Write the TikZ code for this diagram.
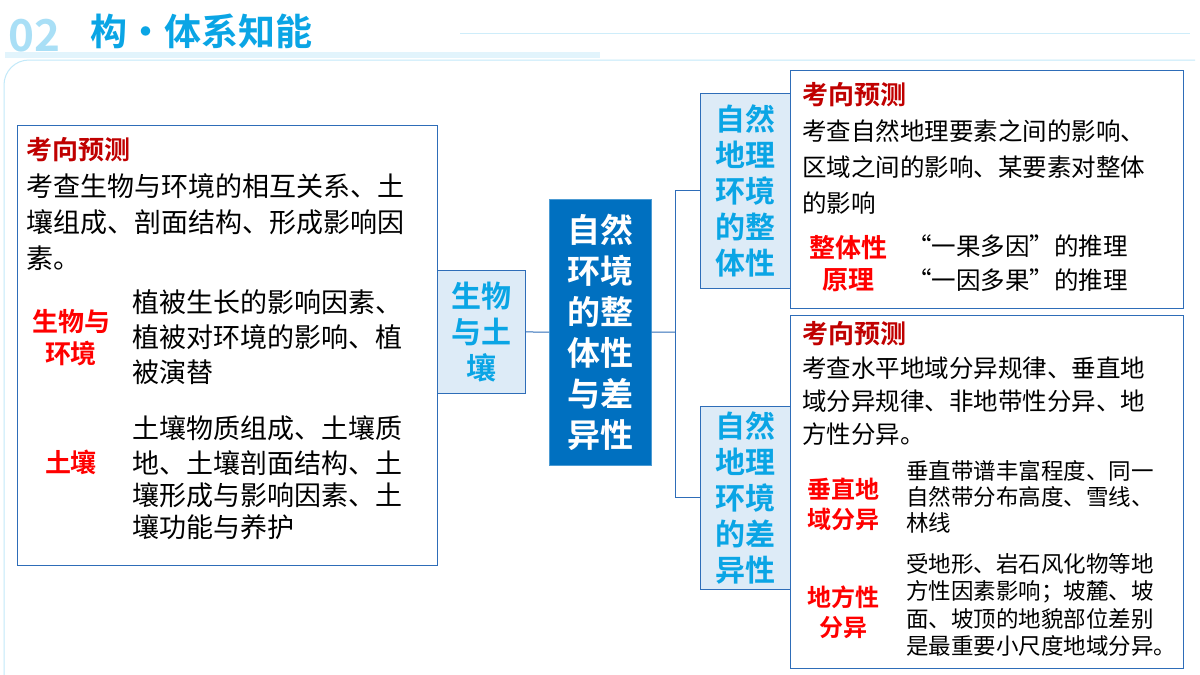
\documentclass[tikz,border=0pt]{standalone}
\usepackage{fontspec}
\setmainfont{Noto Sans CJK SC}[BoldFont={Noto Sans CJK SC Bold}]
\begin{document}
\begin{tikzpicture}[x=1pt,y=-1pt,
  tx/.style={anchor=west,inner sep=0,font=\fontsize{27}{27}\selectfont},
  tr/.style={anchor=west,inner sep=0,font=\fontsize{24.5}{24.5}\selectfont},
  ts/.style={anchor=west,inner sep=0,font=\fontsize{22.5}{22.5}\selectfont},
  rd/.style={anchor=center,inner sep=0,text=red,font=\bfseries\fontsize{26}{32}\selectfont,align=center},
  kx/.style={anchor=west,inner sep=0,text=kred,font=\bfseries\fontsize{26}{26}\selectfont},
  bx/.style={draw=bline,line width=1pt},
  sub/.style={draw=bline,line width=0.8pt,fill=lblue,text=cyanT,font=\bfseries\fontsize{30}{36}\selectfont,align=center,inner sep=0},
  ln/.style={draw=bline,line width=1pt}]
\definecolor{bline}{HTML}{2E6DB8}
\definecolor{lblue}{HTML}{DDEBF7}
\definecolor{cyanT}{HTML}{0AA5E5}
\definecolor{kred}{HTML}{C00000}
\definecolor{dblue}{HTML}{0070C0}
\useasboundingbox (0,0) rectangle (1200,675);
\fill[white] (0,0) rectangle (1200,675);
% header
\node[anchor=west,inner sep=0,text=cyanT!35,font=\bfseries\fontsize{44}{44}\selectfont] (num) at (8,36) {02};
\node[anchor=west,inner sep=0,text=cyanT,font=\bfseries\fontsize{37}{37}\selectfont] (ttl) at (90,31) {构·体系知能};
\draw[cyanT!20,line width=1pt] (460,33) -- (1190,33);
\fill[cyanT!12] (5,52) rectangle (600,58);
\draw[cyanT!25,line width=1pt,rounded corners=25] (4,675) -- (4,60) -- (1195,60);
% left box
\node[bx,minimum width=420,minimum height=440,anchor=north west] (L) at (17,125) {};
\node[kx] (k1) at (26,150) {考向预测};
\node[tx] at (26,186) {考查生物与环境的相互关系、土};
\node[tx] at (26,222) {壤组成、剖面结构、形成影响因};
\node[tx] at (26,258) {素。};
\node[rd] at (71,338) {生物与\\环境};
\node[tx] at (132,302) {植被生长的影响因素、};
\node[tx] at (132,337) {植被对环境的影响、植};
\node[tx] at (132,372) {被演替};
\node[rd] at (71,462) {土壤};
\node[tx] at (132,428) {土壤物质组成、土壤质};
\node[tx] at (132,463) {地、土壤剖面结构、土};
\node[tx] at (132,495) {壤形成与影响因素、土};
\node[tx] at (132,527) {壤功能与养护};
% sub box left
\node[sub,minimum width=88,minimum height=123,anchor=north west] (S) at (437,270) {生物\\与土\\壤};
% center
\node[fill=dblue,draw=dblue!70,minimum width=102,minimum height=266,anchor=north west,text=white,font=\bfseries\fontsize{33}{41}\selectfont,align=center,inner sep=0] (C) at (549,199) {自然\\环境\\的整\\体性\\与差\\异性};
% right subs
\node[sub,minimum width=90,minimum height=195,anchor=north west] (R1) at (700,93) {自然\\地理\\环境\\的整\\体性};
\node[sub,minimum width=90,minimum height=183,anchor=north west] (R2) at (700,406) {自然\\地理\\环境\\的差\\异性};
\coordinate (J) at (675,332);
\draw[ln] (S.east) -- (C.west);
\draw[ln] (C.east) -- (J);
\draw[ln] (J) |- (R1.west);
\draw[ln] (J) |- (R2.west);
% right boxes
\node[bx,minimum width=393,minimum height=238,anchor=north west] (T) at (790,70) {};
\node[bx,minimum width=393,minimum height=353,anchor=north west] (B) at (790,315) {};
\node[kx] at (802,95) {考向预测};
\node[tr] at (802,131) {考查自然地理要素之间的影响、};
\node[tr] at (802,167) {区域之间的影响、某要素对整体};
\node[tr] at (802,203) {的影响};
\node[rd] at (848,264) {整体性\\原理};
\node[tr] at (907,246) {“一果多因”的推理};
\node[tr] at (907,280) {“一因多果”的推理};
\node[kx] at (802,334) {考向预测};
\node[tr] at (802,368) {考查水平地域分异规律、垂直地};
\node[tr] at (802,401) {域分异规律、非地带性分异、地};
\node[tr] at (802,434) {方性分异。};
\node[rd,font=\bfseries\fontsize{24}{30}\selectfont] at (843,504) {垂直地\\域分异};
\node[ts] at (906,471) {垂直带谱丰富程度、同一};
\node[ts] at (906,497) {自然带分布高度、雪线、};
\node[ts] at (906,523) {林线};
\node[rd,font=\bfseries\fontsize{24}{30}\selectfont] at (843,612) {地方性\\分异};
\node[ts] at (906,564) {受地形、岩石风化物等地};
\node[ts] at (906,592) {方性因素影响；坡麓、坡};
\node[ts] at (906,619) {面、坡顶的地貌部位差别};
\node[ts] at (906,646) {是最重要小尺度地域分异。};
\end{tikzpicture}
\end{document}
